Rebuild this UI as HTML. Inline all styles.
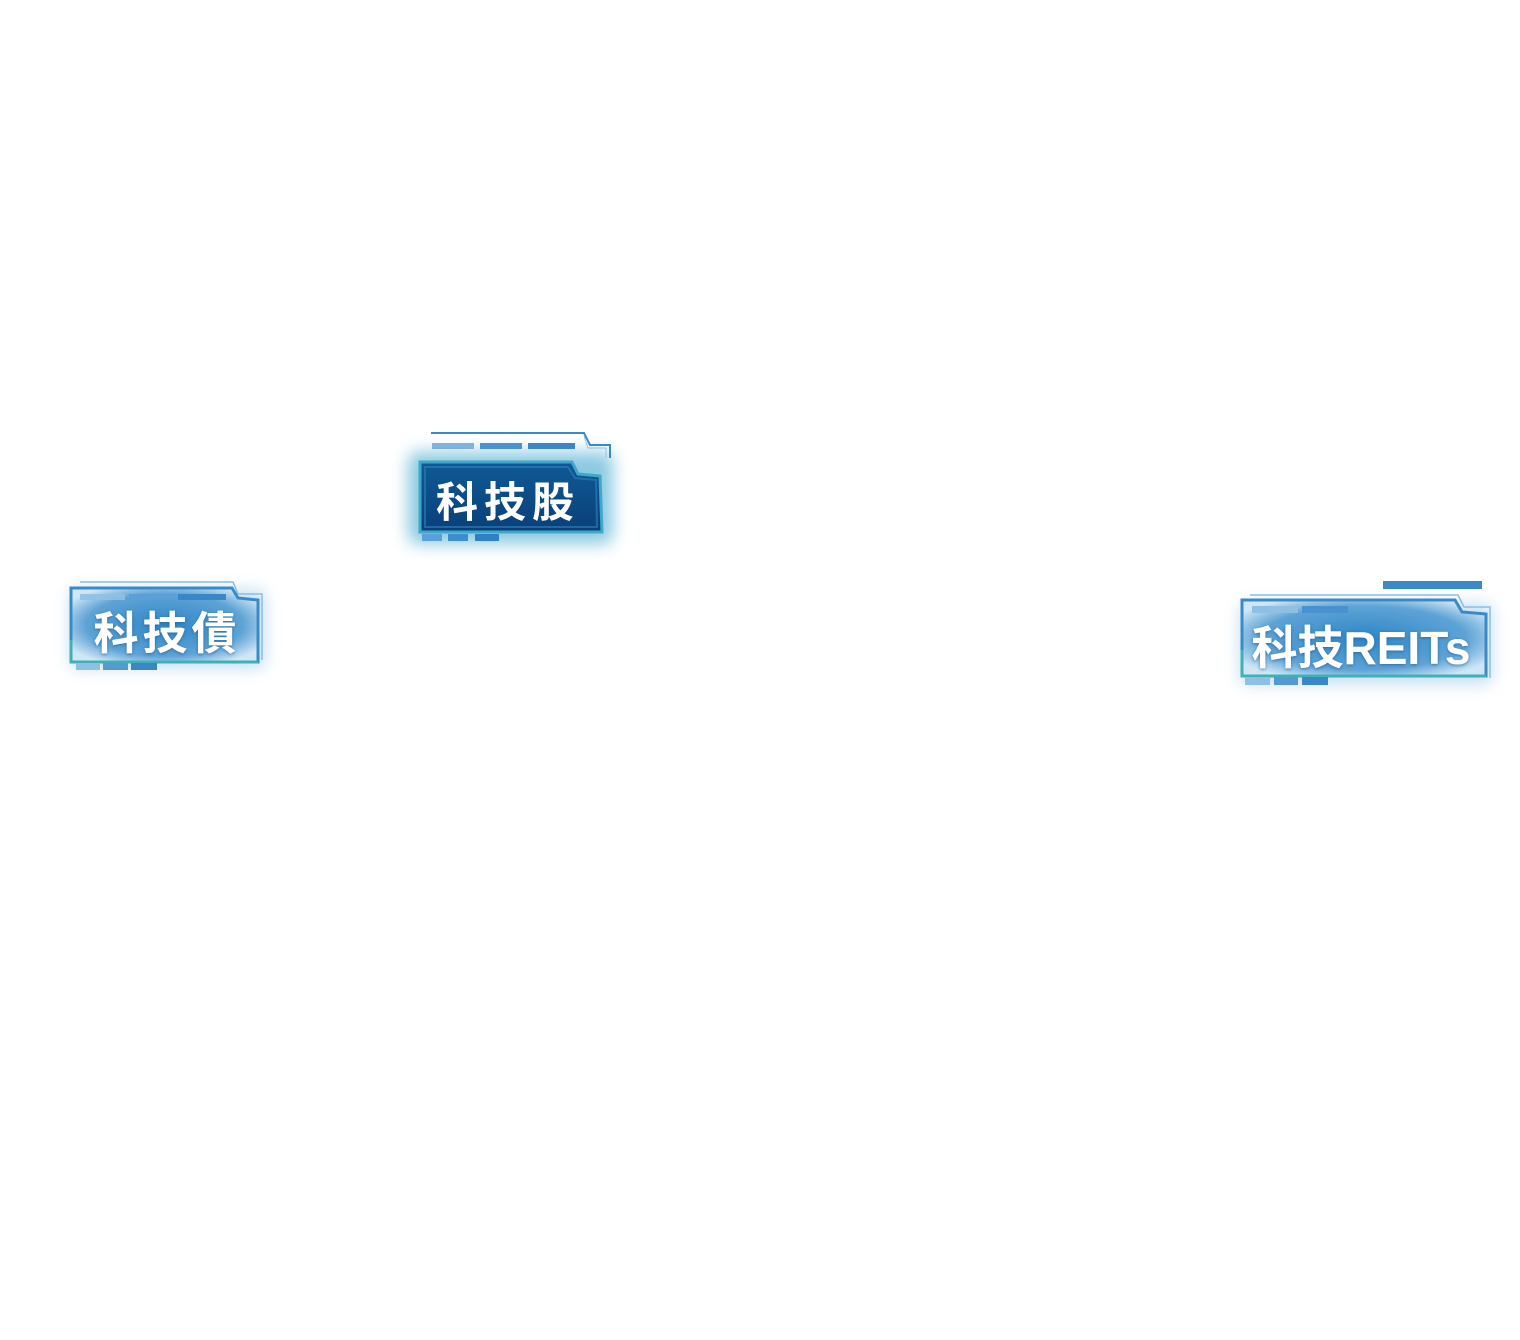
<!DOCTYPE html>
<html><head><meta charset="utf-8"><style>
html,body{margin:0;padding:0;background:#fff;width:1520px;height:1340px;overflow:hidden}
svg{position:absolute;left:0;top:0}
text{font-family:"Liberation Sans","Noto Sans CJK TC","Noto Sans CJK SC",sans-serif;font-weight:bold;fill:#fff}
</style></head><body>
<svg width="1520" height="1340" viewBox="0 0 1520 1340">
<defs>
<filter id="glow" x="-30%" y="-50%" width="160%" height="200%"><feGaussianBlur stdDeviation="8"/></filter>
<filter id="ts" x="-10%" y="-20%" width="120%" height="140%"><feDropShadow dx="0" dy="1" stdDeviation="1.5" flood-color="#1a5a90" flood-opacity="0.7"/></filter>
<radialGradient id="lbr" cx="0.5" cy="0.5" r="0.6"><stop offset="0" stop-color="#2f86c6"/><stop offset="0.7" stop-color="#5ea3d6"/><stop offset="1" stop-color="#cfe6f5"/></radialGradient>
<linearGradient id="db" x1="0" y1="0" x2="0" y2="1"><stop offset="0" stop-color="#0f5a96"/><stop offset="1" stop-color="#0a3f78"/></linearGradient>
</defs>

<!-- Badge 1 科技股 -->
<rect x="408" y="452" width="205" height="92" rx="10" fill="#2f9fc8" opacity="0.55" filter="url(#glow)"/>
<polyline points="431,433 584,433 590,445 610,445 610,458" fill="none" stroke="#3a8ac8" stroke-width="2"/>
<polyline points="584,436 588,448 606,448 606,458" fill="none" stroke="#8fc0e6" stroke-width="1"/>
<rect x="432" y="443" width="42" height="6" fill="#7fb2dc"/>
<rect x="480" y="443" width="42" height="6" fill="#4b93cf"/>
<rect x="528" y="443" width="47" height="6" fill="#3a86c6"/>
<path d="M420,462 L572,462 L578,474 L600,476 L602,532 L420,532 Z" fill="url(#db)" stroke="#3fa7c9" stroke-width="3"/>
<path d="M425,467 L568,467 L575,478 L596,480 L597,527 L425,527 Z" fill="none" stroke="#2a79b6" stroke-width="2" opacity="0.7"/>
<rect x="422" y="534" width="20" height="7" fill="#5aa0d6"/>
<rect x="448" y="534" width="20" height="7" fill="#3d8ecf"/>
<rect x="475" y="534" width="24" height="7" fill="#2f80c4"/>
<text x="508" y="517" font-size="42" text-anchor="middle" letter-spacing="6">科技股</text>

<!-- Badge 2 科技債 -->
<rect x="70" y="590" width="195" height="78" rx="8" fill="#6aaee0" opacity="0.4" filter="url(#glow)"/>
<polyline points="80,582 233,582 238,594 262,594 262,660" fill="none" stroke="#8bbde4" stroke-width="1.5"/>
<path d="M71,588 L232,588 L238,598 L258,600 L258,662 L71,662 Z" fill="url(#lbr)" stroke="#3a8ac8" stroke-width="3"/>
<path d="M71,640 L71,662 L258,662" fill="none" stroke="#3fb0b8" stroke-width="3"/>
<rect x="80" y="594" width="45" height="6" fill="#8fc0e4" opacity="0.9"/>
<rect x="129" y="594" width="46" height="6" fill="#5a9fd8"/>
<rect x="178" y="594" width="48" height="6" fill="#3a86c6"/>
<rect x="76" y="663" width="24" height="7" fill="#8fc0e4"/>
<rect x="103" y="663" width="25" height="7" fill="#5599d2"/>
<rect x="131" y="663" width="26" height="7" fill="#3a86c6"/>
<text x="167" y="649" font-size="45" text-anchor="middle" letter-spacing="4" filter="url(#ts)">科技債</text>

<!-- Badge 3 科技REITs -->
<rect x="1383" y="581" width="99" height="8" fill="#3a8ac8"/>
<rect x="1240" y="604" width="252" height="80" rx="8" fill="#6aaee0" opacity="0.4" filter="url(#glow)"/>
<polyline points="1250,595 1458,595 1464,607 1490,607 1490,678" fill="none" stroke="#8bbde4" stroke-width="1.5"/>
<path d="M1242,600 L1455,600 L1462,612 L1486,614 L1486,676 L1242,676 Z" fill="url(#lbr)" stroke="#3a8ac8" stroke-width="3"/>
<path d="M1242,650 L1242,676 L1486,676" fill="none" stroke="#3fb0b8" stroke-width="3"/>
<rect x="1252" y="606" width="46" height="7" fill="#8fc0e4"/>
<rect x="1302" y="606" width="46" height="7" fill="#4a92cf"/>
<rect x="1245" y="677" width="25" height="8" fill="#8fc0e4"/>
<rect x="1274" y="677" width="24" height="8" fill="#5599d2"/>
<rect x="1302" y="677" width="26" height="8" fill="#3a86c6"/>
<text x="1361" y="664" font-size="46" text-anchor="middle" filter="url(#ts)">科技REITs</text>
</svg>
</body></html>
